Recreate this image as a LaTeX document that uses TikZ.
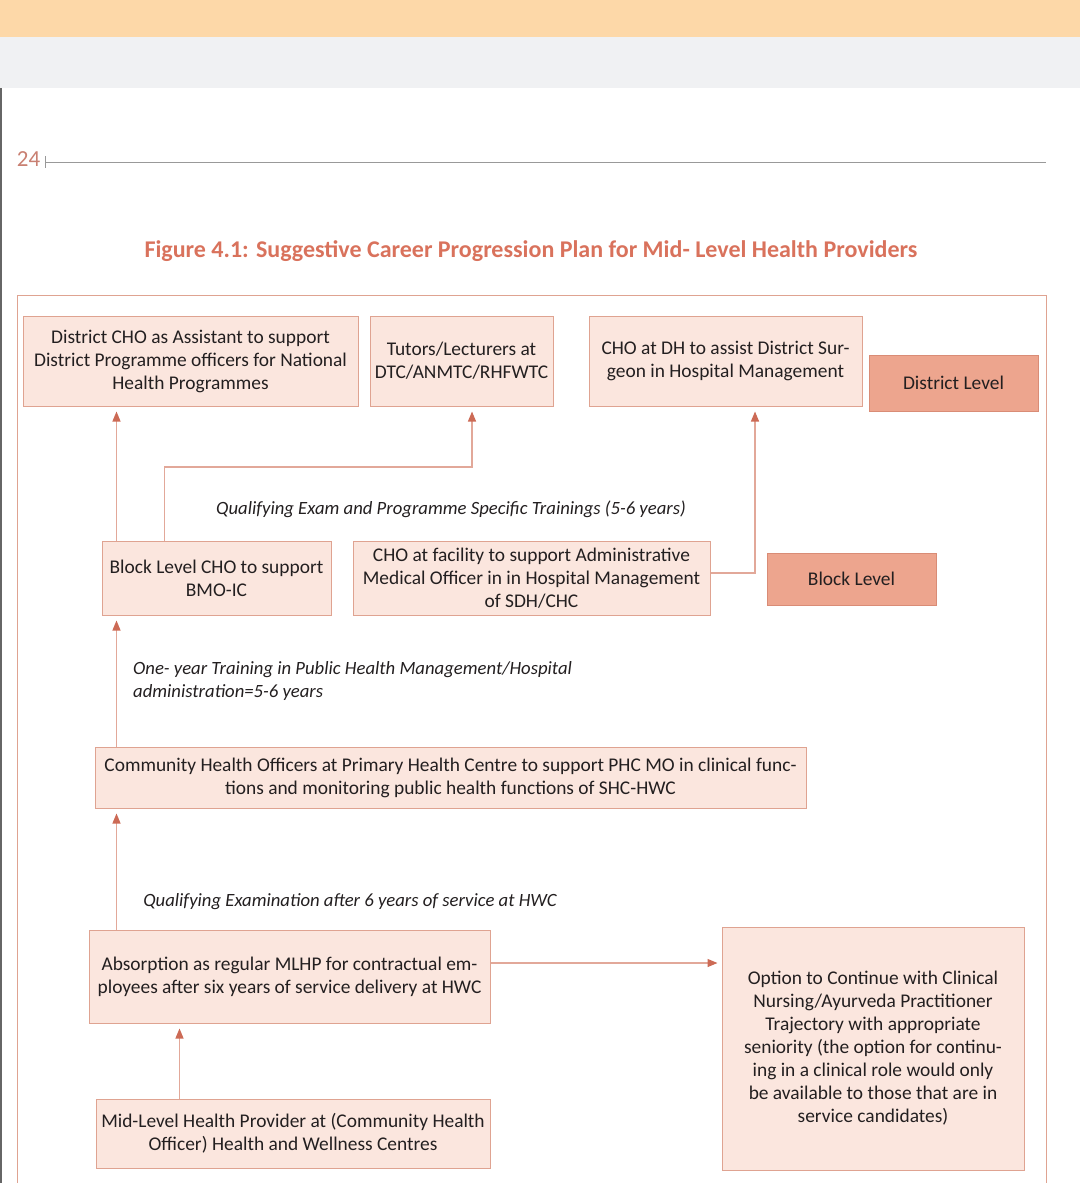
\documentclass[tikz,border=0pt]{standalone}
\usepackage{fontspec}
\setmainfont{Carlito}
\usetikzlibrary{arrows.meta}
\definecolor{boxfill}{HTML}{FBE6DE}
\definecolor{boxline}{HTML}{DFA391}
\definecolor{lvlfill}{HTML}{EDA58E}
\definecolor{lvlline}{HTML}{D98C76}
\definecolor{arline}{HTML}{E2A899}
\definecolor{artip}{HTML}{CC6A55}
\definecolor{ttl}{HTML}{D9725C}
\definecolor{ink}{HTML}{231F20}
\tikzset{bx/.style={rectangle,draw=boxline,fill=boxfill,line width=1pt,align=center,inner sep=0pt,text=ink,font=\fontsize{19.4}{23}\selectfont}}
\tikzset{lv/.style={bx,draw=lvlline,fill=lvlfill}}
\tikzset{lb/.style={inner sep=0pt,text=ink,font=\fontsize{18.7}{23}\selectfont\itshape}}
\tikzset{ar/.style={draw=arline,line width=1.2pt,-{Triangle[length=10pt,width=8pt,color=artip]},shorten >=5pt}}

\begin{document}
\begin{tikzpicture}[x=1pt,y=-1pt]
      \useasboundingbox (0,0) rectangle (1080,1183);
      % page header
      \fill[fill={rgb,255:red,253;green,216;blue,168}] (0,0) rectangle (1080,37);
      \fill[fill={rgb,255:red,240;green,241;blue,243}] (0,37) rectangle (1080,88);
      \draw[line width=2pt,black!60] (1,88) -- (1,1183);
      \node[inner sep=0pt,text={rgb,255:red,201;green,128;blue,114},font=\fontsize{23}{23}\selectfont] (pg) at (28.5,159) {24};
      \draw[black!40,line width=1pt] (45,156) -- (45,168) (45,162) -- (1046,162);
      \node[inner sep=0pt,text=ttl,font=\fontsize{24}{24}\bfseries] (title) at (531,251) {Figure 4.1: Suggestive Career Progression Plan for Mid- Level Health Providers};
      \draw[boxline,line width=1pt] (17,1183) |- (1046,295) -- (1046,1183);
      % district level
      \node[bx,minimum width=335pt,minimum height=90pt] (dcho) at (190.5,361) {District CHO as Assistant to support\\District Programme officers for National\\Health Programmes};
      \node[bx,minimum width=183pt,minimum height=90pt] (tut) at (461.5,361) {Tutors/Lecturers at\\DTC/ANMTC/RHFWTC};
      \node[bx,minimum width=273pt,minimum height=90pt] (dh) at (725.5,361) {CHO at DH to assist District Sur-\\geon in Hospital Management};
      \node[lv,minimum width=169pt,minimum height=56pt] (dist) at (953.5,383) {District Level};
      % block level
      \node[bx,minimum width=229pt,minimum height=74pt] (bcho) at (216.5,578) {Block Level CHO to support\\BMO-IC};
      \node[bx,minimum width=357pt,minimum height=74pt] (fac) at (531.5,578) {CHO at facility to support Administrative\\Medical Officer in in Hospital Management\\of SDH/CHC};
      \node[lv,minimum width=169pt,minimum height=52pt] (blk) at (851.5,579) {Block Level};
      % PHC and HWC
      \node[bx,minimum width=711pt,minimum height=61pt] (phc) at (450.5,777.5) {Community Health Officers at Primary Health Centre to support PHC MO in clinical func-\\tions and monitoring public health functions of SHC-HWC};
      \node[bx,minimum width=401pt,minimum height=93pt] (abs) at (289.5,976.5) {Absorption as regular MLHP for contractual em-\\ployees after six years of service delivery at HWC};
      \node[bx,minimum width=302pt,minimum height=243pt] (opt) at (873,1048.5) {Option to Continue with Clinical\\Nursing/Ayurveda Practitioner\\Trajectory with appropriate\\seniority (the option for continu-\\ing in a clinical role would only\\be available to those that are in\\service candidates)};
      \node[bx,minimum width=394pt,minimum height=69pt] (mlhp) at (293,1133.5) {Mid-Level Health Provider at (Community Health\\Officer) Health and Wellness Centres};
      % labels
      \node[lb] (l1) at (451,509) {Qualifying Exam and Programme Specific Trainings (5-6 years)};
      \node[lb,anchor=west,align=left] (l2) at (133,681.5) {One- year Training in Public Health Management/Hospital\\administration=5-6 years};
      \node[lb] (l3) at (350,902) {Qualifying Examination after 6 years of service at HWC};
      % arrows
      \coordinate (jog) at (300,467);
      \draw[ar] ([xshift=15pt]bcho.north west) -- ([xshift=15pt]bcho.north west |- dcho.south);
      \draw[ar] ([xshift=63pt]bcho.north west) |- (jog) -| ([xshift=10.5pt]tut.south);
      \draw[ar] ([yshift=5pt]fac.east) -| ([xshift=29.5pt]dh.south);
      \draw[ar] ([xshift=22pt]phc.north west) -- ([xshift=22pt]phc.north west |- bcho.south);
      \draw[ar] ([xshift=28pt]abs.north west) -- ([xshift=28pt]abs.north west |- phc.south);
      \draw[ar] ([xshift=84pt]mlhp.north west) -- ([xshift=84pt]mlhp.north west |- abs.south);
      \draw[ar,shorten >=4pt] ([yshift=13.5pt]abs.east) -- ([yshift=13.5pt]abs.east -| opt.west);
    \end{tikzpicture}
\end{document}
